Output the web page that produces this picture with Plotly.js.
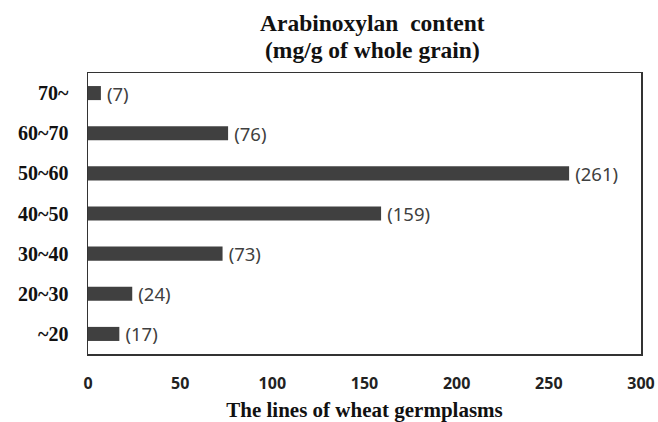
<!DOCTYPE html>
<html><head><meta charset="utf-8">
<script src="https://cdn.plot.ly/plotly-3.0.1.min.js"></script>
<style>html,body{margin:0;padding:0;background:#fff;}</style>
</head><body>
<div id="chart" style="width:658px;height:422px;"></div>
<script>
const categories = ["~20", "20~30", "30~40", "40~50", "50~60", "60~70", "70~"];
const counts = [17, 24, 73, 159, 261, 76, 7];
const xTickVals = [0, 50, 100, 150, 200, 250, 300];
const titleLines = ["Arabinoxylan  content", "(mg/g of whole grain)"];
const xTitle = "The lines of wheat germplasms";

const serif = "Liberation Serif, Times New Roman, serif";
const sans = "Noto Sans, Open Sans, sans-serif";

Plotly.newPlot("chart", [{
  type: "bar",
  orientation: "h",
  y: categories,
  x: counts,
  marker: {color: "#404040", line: {width: 0}},
  texttemplate: "\u2009(%{x})",
  textposition: "outside",
  textangle: 0,
  constraintext: "none",
  cliponaxis: false,
  textfont: {family: sans, size: 18.5, color: "#404040"},
  hoverinfo: "none"
}], {
  width: 658, height: 422,
  margin: {l: 88, r: 17, t: 73, b: 68},
  paper_bgcolor: "#fff", plot_bgcolor: "#fff",
  bargap: 0.65,
  showlegend: false,
  annotations: [
    {text: "<b>" + titleLines[0] + "</b>", xref: "paper", yref: "paper", x: 0.514, y: 1.178,
     xanchor: "center", yanchor: "middle", showarrow: false,
     font: {family: serif, size: 23.5, color: "#111"}},
    {text: "<b>" + titleLines[1] + "</b>", xref: "paper", yref: "paper", x: 0.514, y: 1.0819,
     xanchor: "center", yanchor: "middle", showarrow: false,
     font: {family: serif, size: 23.5, color: "#111"}}
  ],
  xaxis: {
    range: [0, 300], tickvals: xTickVals, ticktext: xTickVals.map(String),
    showgrid: false, zeroline: false,
    showline: true, mirror: true, linecolor: "#333", linewidth: 1.5,
    ticks: "outside", ticklen: 14, tickcolor: "rgba(0,0,0,0)",
    tickfont: {family: sans, size: 16, color: "#222", weight: "bold"},
    title: {text: "<b>" + xTitle + "</b>", font: {family: serif, size: 21, color: "#111"}, standoff: 20}
  },
  yaxis: {
    type: "category", categoryorder: "array", categoryarray: categories,
    range: [-0.5, 6.5],
    showgrid: false, zeroline: false,
    showline: true, mirror: true, linecolor: "#333", linewidth: 1.5,
    ticks: "outside", ticklen: 14, tickcolor: "rgba(0,0,0,0)",
    tickfont: {family: serif, size: 20, color: "#111", weight: "bold"}
  }
}, {displayModeBar: false, staticPlot: true});
</script>
</body></html>
